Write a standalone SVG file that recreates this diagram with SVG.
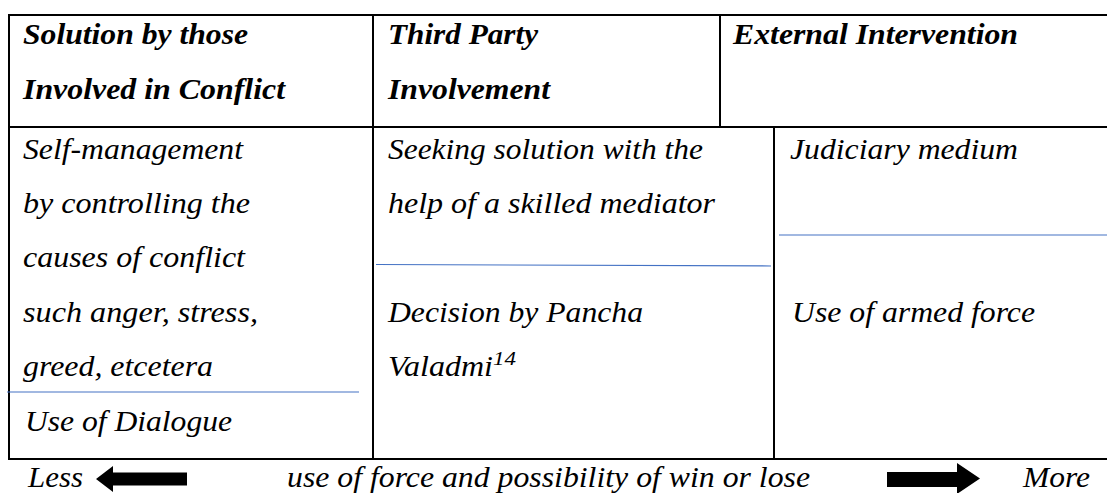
<svg xmlns="http://www.w3.org/2000/svg" width="1107" height="493" viewBox="0 0 1107 493">
<style>
.t{font-family:"Liberation Serif","Times New Roman",Times,serif;font-style:italic;font-size:28.5px;fill:#000}
.h{font-weight:bold}
.b{stroke:#000;stroke-width:2;fill:none}
.s{stroke:#4472C4;stroke-width:1.2;fill:none}
</style>
<rect width="1107" height="493" fill="#fff"/>
<g id="table-lines">
<path class="b" d="M8 15H1107M8 127H1107M8 459H1107M9 15V459M373 15V459M720 15V127M774 127V459"/>
</g>
<g id="head-1">
<text class="t h" x="23" y="44" textLength="225" lengthAdjust="spacingAndGlyphs">Solution by those</text>
<text class="t h" x="23" y="99" textLength="262" lengthAdjust="spacingAndGlyphs">Involved in Conflict</text>
</g>
<g id="head-2">
<text class="t h" x="388" y="44" textLength="150" lengthAdjust="spacingAndGlyphs">Third Party</text>
<text class="t h" x="388" y="99" textLength="162" lengthAdjust="spacingAndGlyphs">Involvement</text>
</g>
<g id="head-3">
<text class="t h" x="733" y="44" textLength="285" lengthAdjust="spacingAndGlyphs">External Intervention</text>
</g>
<g id="cell-1">
<text class="t" x="23" y="159" textLength="220" lengthAdjust="spacingAndGlyphs">Self-management</text>
<text class="t" x="23" y="213" textLength="227" lengthAdjust="spacingAndGlyphs">by controlling the</text>
<text class="t" x="23" y="267" textLength="222" lengthAdjust="spacingAndGlyphs">causes of conflict</text>
<text class="t" x="23" y="322" textLength="235" lengthAdjust="spacingAndGlyphs">such anger, stress,</text>
<text class="t" x="23" y="376" textLength="190" lengthAdjust="spacingAndGlyphs">greed, etcetera</text>
<path class="s" d="M7 392H359"/>
<text class="t" x="25" y="431" textLength="207" lengthAdjust="spacingAndGlyphs">Use of Dialogue</text>
</g>
<g id="cell-2">
<text class="t" x="388" y="159" textLength="315" lengthAdjust="spacingAndGlyphs">Seeking solution with the</text>
<text class="t" x="388" y="213" textLength="327" lengthAdjust="spacingAndGlyphs">help of a skilled mediator</text>
<path class="s" d="M376 264.5L771 266"/>
<text class="t" x="388" y="322" textLength="255" lengthAdjust="spacingAndGlyphs">Decision by Pancha</text>
<text class="t" x="388" y="376"><tspan textLength="105" lengthAdjust="spacingAndGlyphs">Valadmi</tspan><tspan font-size="19" dy="-11" textLength="23" lengthAdjust="spacingAndGlyphs">14</tspan></text>
</g>
<g id="cell-3">
<text class="t" x="790" y="159" textLength="228" lengthAdjust="spacingAndGlyphs">Judiciary medium</text>
<path class="s" d="M779 235H1107"/>
<text class="t" x="792" y="322" textLength="243" lengthAdjust="spacingAndGlyphs">Use of armed force</text>
</g>
<g id="scale">
<text class="t" x="28" y="487" textLength="55" lengthAdjust="spacingAndGlyphs">Less</text>
<text class="t" x="287" y="487" textLength="523" lengthAdjust="spacingAndGlyphs">use of force and possibility of win or lose</text>
<text class="t" x="1023" y="487" textLength="67" lengthAdjust="spacingAndGlyphs">More</text>
</g>
<g id="connectors">
<path d="M187 472.5V485.5H113V492L96 479L113 466V472.5Z" fill="#000"/>
<path d="M887 472V487H957V494L980 478.5L957 463V472Z" fill="#000"/>
</g>
</svg>
